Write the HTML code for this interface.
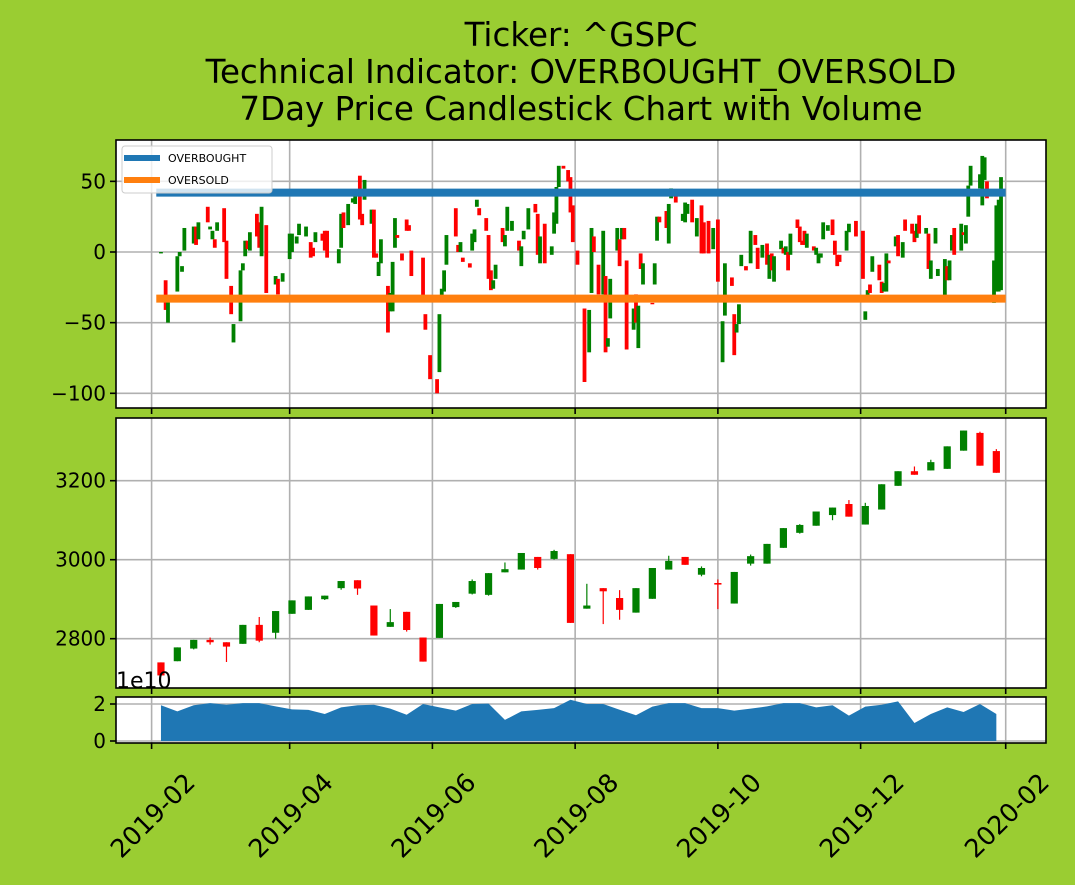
<!DOCTYPE html>
<html><head><meta charset="utf-8"><style>
html,body{margin:0;padding:0;background:#9acd32;}
svg{display:block;font-family:"DejaVu Sans","Liberation Sans",sans-serif;}
</style></head><body>
<svg id="chart" width="1075" height="885" viewBox="0 0 1075 885" xmlns="http://www.w3.org/2000/svg">
<rect width="1075" height="885" fill="#9acd32"/>
<g font-size="32.5" text-anchor="middle" fill="#000">
<text x="581" y="46">Ticker: ^GSPC</text>
<text x="581" y="83">Technical Indicator: OVERBOUGHT_OVERSOLD</text>
<text x="581" y="120">7Day Price Candlestick Chart with Volume</text>
</g>
<g id="p1"></g>
<g id="p2"></g>
<g id="p3"></g>
<g id="xl"></g>
</svg>
<script>
// ---- data (x = days since 2019-02-01) ----
const xTickDays=[0,59,120,181,242,303,365];
const xTickLabels=["2019-02","2019-04","2019-06","2019-08","2019-10","2019-12","2020-02"];
const oscDay=[4,6,7,11,12,13,14,18,19,20,24,25,26,27,28,31,32,34,35,38,39,40,41,42,45,46,47,49,53,54,56,59,60,62,63,66,68,69,70,73,74,75,80,81,82,84,86,87,89,90,91,94,95,96,97,98,101,102,103,104,105,107,109,110,111,116,117,119,122,123,124,125,126,130,131,132,133,136,137,138,139,140,143,144,145,146,147,150,151,152,154,157,158,159,161,164,165,166,168,171,172,173,174,176,178,179,180,182,
185,187,188,189,191,193,194,195,196,199,200,201,202,203,206,207,208,209,210,214,215,216,217,220,221,222,224,227,228,229,231,233,235,236,238,240,242,244,245,248,249,250,251,252,254,256,258,259,261,263,264,265,266,269,270,271,272,273,276,277,278,279,280,283,284,285,286,287,289,291,292,293,294,297,298,301,304,305,306,307,308,311,312,313,314,315,318,319,321,322,325,326,327,328,331,332,333,335,336,339,340,341,342,343,346,347,348,349,350,354,355,356,357,360,361,362,363];
const oscOpen=[-1,-20,-50,-28,-3,-14,1,6,18,9,32,16,9,9,15,31,8,-24,-64,-49,-13,-3,8,1,27,21,-3,19,-23,-19,-21,-5,0,6,12,11,7,3,7,13,15,15,-8,3,28,19,35,34,54,27,37,20,30,-1,-17,-8,-24,-42,-42,3,12,-1,23,19,1,-4,-44,-73,-90,-85,-31,-28,-9,31,5,0,-4,-8,1,7,32,31,24,12,-13,-26,-19,17,4,15,15,8,-10,9,16,34,27,-8,20,-2,13,20,46,61,58,53,33,1,
-40,-71,-29,11,-9,-30,-17,-67,-47,1,9,9,17,-6,-55,-30,-68,-1,-23,-36,-23,8,25,29,6,38,40,22,21,27,37,11,33,21,22,2,23,-78,-45,-18,-44,-57,-51,-10,-10,-8,12,3,-4,6,-19,-1,-21,2,3,-2,0,-2,23,18,8,15,3,4,-2,-8,-4,9,15,23,8,-2,-2,1,14,22,15,-48,-31,-23,-14,-9,-21,-28,-28,-6,4,12,-4,23,20,15,10,26,13,13,-19,6,-17,-31,-10,-20,1,17,1,14,6,25,47,45,33,51,50,-36,-28,-28,-27];
const oscClose=[0,-41,-31,-3,0,-10,17,18,5,21,21,18,15,3,21,7,-19,-44,-51,-13,-8,8,2,14,11,3,32,-29,-17,-30,-15,13,13,11,20,18,-4,-3,14,8,1,-4,2,27,17,34,38,44,23,19,51,30,-4,-4,-7,9,-57,-29,-7,24,10,-6,15,15,-17,-31,-55,-90,-100,-44,-26,-13,12,11,0,7,-7,-11,13,16,37,26,15,-19,-27,-20,-9,7,12,32,22,1,4,15,31,28,-2,11,-8,4,28,46,61,59,50,28,7,-9,
-92,-41,17,0,-30,15,-71,-61,-19,17,-10,17,9,-69,-40,-50,-38,-12,-8,-37,-8,25,21,17,34,45,35,27,35,34,21,24,-1,-1,-1,17,-21,-49,-8,-24,-73,-51,-37,-2,-13,15,5,-12,5,-9,-2,-13,-3,8,-1,4,-13,13,17,7,5,5,13,1,3,-1,-1,21,19,12,-2,-10,-7,15,20,11,-19,-42,-27,-29,-3,-20,-29,-22,-1,-8,11,-3,7,15,13,7,20,13,17,-12,-6,17,-12,-5,-20,-6,12,-2,20,12,19,47,61,55,68,67,38,-6,33,37,53];
const overbought=42, oversold=-33, lineStartDay=2, lineEndDay=365;
const wkDay=[4,11,18,25,32,39,46,53,60,67,74,81,88,95,102,109,116,123,130,137,144,151,158,165,172,179,186,193,200,207,214,221,228,235,242,249,256,263,270,277,284,291,298,305,312,319,326,333,340,347,354,361];
const wkOpen=[2740,2743,2775,2797,2791,2787,2835,2815,2863,2873,2900,2928,2948,2884,2830,2868,2803,2802,2880,2914,2911,2968,2975,3007,3002,3014,2876,2928,2903,2866,2901,2975,3007,2962,2941,2889,2990,2990,3030,3068,3086,3113,3141,3089,3127,3187,3224,3226,3230,3276,3321,3275];
const wkClose=[2707,2778,2797,2791,2780,2835,2795,2870,2897,2907,2909,2946,2927,2808,2842,2822,2742,2888,2893,2946,2966,2976,3017,2979,3022,2840,2884,2920,2873,2928,2979,2997,2987,2979,2937,2969,3009,3040,3080,3088,3122,3132,3109,3136,3191,3224,3215,3247,3287,3327,3238,3220];
const wkHigh=[2740,2778,2797,2803,2791,2835,2855,2870,2897,2907,2909,2946,2948,2884,2875,2868,2803,2888,2893,2950,2966,2993,3017,3007,3025,3014,2939,2928,2923,2928,2979,3010,3007,2983,2950,2969,3013,3040,3080,3090,3122,3132,3151,3144,3191,3224,3236,3253,3287,3327,3324,3280];
const wkLow=[2707,2743,2773,2785,2741,2787,2791,2800,2863,2873,2898,2924,2911,2808,2830,2818,2742,2802,2878,2912,2909,2968,2975,2975,3000,2840,2876,2837,2848,2866,2901,2975,2987,2958,2875,2889,2985,2990,3030,3066,3086,3100,3109,3089,3127,3187,3215,3226,3230,3276,3238,3220];
const volume=[1.93,1.60,1.93,2.05,1.96,2.05,2.05,1.87,1.71,1.68,1.46,1.82,1.93,1.96,1.75,1.42,2.0,1.82,1.64,2.0,2.02,1.14,1.60,1.68,1.78,2.23,2.0,2.0,1.69,1.39,1.86,2.05,2.05,1.78,1.78,1.64,1.75,1.87,2.05,2.05,1.82,1.93,1.37,1.86,1.96,2.14,0.97,1.46,1.82,1.57,2.0,1.46];
const p1Ticks=[50,0,-50,-100], p1Labels=["50","0","\u221250","\u2212100"];
const p2Ticks=[2800,3000,3200], p2Labels=["2800","3000","3200"];
const p3Ticks=[0,2], p3Labels=["0","2"];

const NS="http://www.w3.org/2000/svg";
const L=116,R=1046;
const X=d=>151.6+d*2.34;
const P1={t:140,b:408,y:v=>252-v*1.413};
const P2={t:418,b:688,y:v=>559.7-(v-3000)*0.395};
const P3={t:697,b:743,y:v=>741-v*18.5};
function el(parent,tag,attrs){const e=document.createElementNS(NS,tag);for(const k in attrs)e.setAttribute(k,attrs[k]);parent.appendChild(e);return e;}
function panel(g,P,ticks,labels,name){
  el(g,'rect',{x:L,y:P.t,width:R-L,height:P.b-P.t,fill:'#fff'});
  xTickDays.forEach(d=>{const l=el(g,'line',{x1:X(d),x2:X(d),y1:P.t,y2:P.b,stroke:'#b0b0b0','stroke-width':1.6});
    
    
    el(g,'line',{x1:X(d),x2:X(d),y1:P.b,y2:P.b+6,stroke:'#000','stroke-width':1.6});});
  ticks.forEach((v,i)=>{const y=P.y(v);
    const l=el(g,'line',{x1:L,x2:R,y1:y,y2:y,stroke:'#b0b0b0','stroke-width':1.6});
    
    
    el(g,'line',{x1:L-6,x2:L,y1:y,y2:y,stroke:'#000','stroke-width':1.6});
    const t=el(g,'text',{x:L-10,y:y+7,'font-size':20,'text-anchor':'end'});t.textContent=labels[i];
    
    });
}
function border(g,P){el(g,'rect',{x:L,y:P.t,width:R-L,height:P.b-P.t,fill:'none',stroke:'#000','stroke-width':1.6});}
// panel 1
const g1=document.getElementById('p1');
panel(g1,P1,p1Ticks,p1Labels,'oscillator');
oscDay.forEach((d,i)=>{const o=oscOpen[i],c=oscClose[i],up=c>=o;const col=up?'#008000':'#ff0000';
  const top=P1.y(Math.max(o,c)),bot=P1.y(Math.min(o,c));
  const r=el(g1,'rect',{x:X(d)-1.9,y:top,width:3.8,height:Math.max(bot-top,1),fill:col});
  
  });
const ob=el(g1,'line',{x1:X(lineStartDay),x2:X(lineEndDay),y1:P1.y(overbought),y2:P1.y(overbought),stroke:'#1f77b4','stroke-width':8});


const os=el(g1,'line',{x1:X(lineStartDay),x2:X(lineEndDay),y1:P1.y(oversold),y2:P1.y(oversold),stroke:'#ff7f0e','stroke-width':8});


border(g1,P1);
const lg=el(g1,'g',{});


el(lg,'rect',{x:122,y:146,width:150,height:47,rx:3,fill:'#fff','fill-opacity':0.8,stroke:'#ccc'});
el(lg,'line',{x1:124,x2:160,y1:158,y2:158,stroke:'#1f77b4','stroke-width':6});
el(lg,'line',{x1:124,x2:160,y1:180,y2:180,stroke:'#ff7f0e','stroke-width':6});
const t1=el(lg,'text',{x:168,y:162,'font-size':11});t1.textContent='OVERBOUGHT';


const t2=el(lg,'text',{x:168,y:184,'font-size':11});t2.textContent='OVERSOLD';


// panel 2
const g2=document.getElementById('p2');
panel(g2,P2,p2Ticks,p2Labels,'price');
wkDay.forEach((d,i)=>{const o=wkOpen[i],c=wkClose[i],up=c>=o;const col=up?'#008000':'#ff0000';
  el(g2,'line',{x1:X(d),x2:X(d),y1:P2.y(wkHigh[i]),y2:P2.y(wkLow[i]),stroke:col,'stroke-width':1.2});
  const top=P2.y(Math.max(o,c)),bot=P2.y(Math.min(o,c));
  const r=el(g2,'rect',{x:X(d)-3.6,y:top,width:7.2,height:Math.max(bot-top,1.5),fill:col});
  
  });
border(g2,P2);
// panel 3
const g3=document.getElementById('p3');
panel(g3,P3,p3Ticks,p3Labels,'volume');
let dpath='M'+X(wkDay[0])+','+P3.y(0);
wkDay.forEach((d,i)=>{dpath+=' L'+X(d)+','+P3.y(volume[i]);});
dpath+=' L'+X(wkDay[wkDay.length-1])+','+P3.y(0)+' Z';
const va=el(g3,'path',{d:dpath,fill:'#1f77b4'});


border(g3,P3);
const ex=el(g3,'text',{x:116,y:688,'font-size':22});ex.textContent='1e10';


// x labels
const gx=document.getElementById('xl');
xTickDays.forEach((d,i)=>{const x=X(d)+45,y=784;
  const t=el(gx,'text',{x:x,y:y,'font-size':25.5,'text-anchor':'end',transform:'rotate(-45 '+x+' '+y+')'});
  t.textContent=xTickLabels[i];
  
  });
</script>
</body></html>
